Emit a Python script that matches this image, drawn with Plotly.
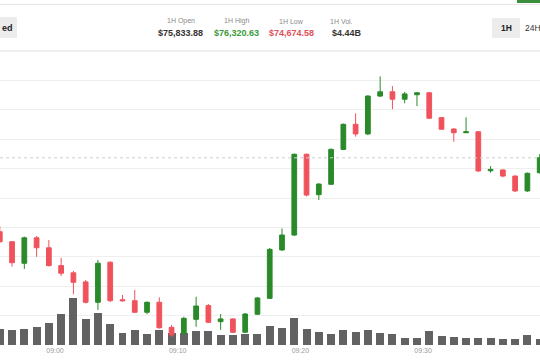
import plotly.graph_objects as go

day = "2024-11-07"
minutes = ["08:55", "08:56", "08:57", "08:58", "08:59", "09:00", "09:01", "09:02", "09:03", "09:04",
           "09:05", "09:06", "09:07", "09:08", "09:09", "09:10", "09:11", "09:12", "09:13", "09:14",
           "09:15", "09:16", "09:17", "09:18", "09:19", "09:20", "09:21", "09:22", "09:23", "09:24",
           "09:25", "09:26", "09:27", "09:28", "09:29", "09:30", "09:31", "09:32", "09:33", "09:34",
           "09:35", "09:36", "09:37", "09:38", "09:39"]

opens = [75528, 75477, 75367, 75497, 75446, 75355, 75318, 75272, 75168, 75372,
         75181, 75176, 75117, 75168, 75040, 75010, 75081, 75151, 75069, 75083,
         75015, 75107, 75188, 75435, 75511, 75923, 75717, 75770, 75948, 76076,
         76027, 76220, 76242, 76204, 76227, 76237, 76110, 76052, 76033, 76038,
         75839, 75843, 75812, 75736, 75829]
highs = [75557, 75478, 75503, 75506, 75486, 75395, 75328, 75282, 75384, 75377,
         75205, 75231, 75172, 75193, 75052, 75094, 75196, 75159, 75108, 75086,
         75113, 75195, 75445, 75545, 75927, 75927, 75776, 75953, 76080, 76132,
         76225, 76320.63, 76271, 76241, 76241, 76241, 76113, 76055, 76112, 76042,
         75863, 75846, 75815, 75830, 75924]
lows = [75470, 75350, 75338, 75400, 75351, 75302, 75209, 75162, 75129, 75169,
        75171, 75113, 75107, 75034, 74991, 75001, 75043, 75062, 75027, 75011,
        75011, 75103, 75185, 75430, 75506, 75708, 75690, 75766, 75945, 76013,
        76021, 76215, 76153, 76183, 76169, 76103, 76047, 75987, 76032, 75833,
        75829, 75806, 75731, 75731, 75825]
closes = [75477, 75370, 75497, 75446, 75355, 75316, 75270, 75168, 75367, 75176,
          75176, 75117, 75168, 75038, 75001, 75086, 75149, 75066, 75083, 75015,
          75108, 75190, 75438, 75511, 75923, 75715, 75771, 75948, 76076, 76027,
          76220, 76242, 76204, 76231, 76237, 76107, 76051, 76033, 76038, 75838,
          75846, 75812, 75736, 75826, 75905]
volumes_musd = [78, 77, 78, 92, 108, 157, 235, 132, 162, 105,
                62, 75, 53, 75, 62, 62, 68, 68, 48, 48,
                55, 55, 95, 87, 133, 78, 63, 53, 73, 63,
                73, 62, 53, 33, 33, 72, 47, 38, 33, 37,
                33, 28, 30, 48, 32]

stat_labels = ["1H Open", "1H High", "1H Low", "1H Vol."]
stat_values = ["$75,833.88", "$76,320.63", "$74,674.58", "$4.44B"]
range_buttons = ["1H", "24H"]

x = [f"{day} {m}:30" for m in minutes]

GREEN = "#2a8a2a"
RED = "#f0525c"
FONT = "Arial"

fig = go.Figure()
fig.add_trace(go.Bar(x=x, y=volumes_musd, marker_color="#626262", marker_line_width=0,
                     width=39000, yaxis="y", showlegend=False))
fig.add_trace(go.Candlestick(
    x=x, open=opens, high=highs, low=lows, close=closes, yaxis="y2",
    increasing=dict(line=dict(color=GREEN, width=1), fillcolor=GREEN),
    decreasing=dict(line=dict(color=RED, width=1), fillcolor=RED),
    whiskerwidth=0, showlegend=False))

T, B, H = 51, 15, 360
PH = H - T - B


def px(xp):
    return xp / 540


def py(yp):
    return (H - B - yp) / PH


shapes = [
    dict(type="line", xref="paper", yref="paper", x0=0, x1=1, y0=py(4.5), y1=py(4.5),
         line=dict(color="#e6e6e6", width=1)),
    dict(type="line", xref="paper", yref="paper", x0=0, x1=1, y0=py(51), y1=py(51),
         line=dict(color="#e8e8e8", width=1.5)),
    dict(type="rect", xref="paper", yref="paper", x0=px(517), x1=px(541), y0=py(3), y1=py(-2),
         fillcolor="#3a8f3a", line_width=0),
    dict(type="rect", xref="paper", yref="paper", x0=px(-5), x1=px(17), y0=py(38), y1=py(17),
         fillcolor="#ececec", line_width=0),
    dict(type="rect", xref="paper", yref="paper", x0=px(492), x1=px(520), y0=py(38), y1=py(18),
         fillcolor="#ececec", line_width=0),
    dict(type="line", xref="paper", yref="y2", x0=0, x1=1, y0=closes[-1], y1=closes[-1],
         line=dict(color="#cfcfcf", width=1, dash="dot")),
]

annotations = [
    dict(text="ed", x=px(0), y=py(28), xanchor="left", yanchor="middle",
         font=dict(family=FONT, size=9, color="#222", weight=700)),
]
label_x = [181, 236.5, 291.5, 341]
value_x = [180.5, 236, 291, 346.5]
value_colors = ["#333333", "#3a9a3a", "#e0505a", "#333333"]
for lab, val, lx, vx, vc in zip(stat_labels, stat_values, label_x, value_x, value_colors):
    annotations.append(dict(text=lab, x=px(lx), y=py(21), xanchor="center", yanchor="middle",
                            font=dict(family=FONT, size=7, color="#8a8a8a")))
    annotations.append(dict(text=val, x=px(vx), y=py(33), xanchor="center", yanchor="middle",
                            font=dict(family=FONT, size=9, color=vc, weight=600)))
annotations.append(dict(text=range_buttons[0], x=px(506), y=py(28), xanchor="center", yanchor="middle",
                        font=dict(family=FONT, size=8.5, color="#222", weight=700)))
annotations.append(dict(text=range_buttons[1], x=px(533), y=py(28), xanchor="center", yanchor="middle",
                        font=dict(family=FONT, size=8.5, color="#333")))
for a in annotations:
    a.update(xref="paper", yref="paper", showarrow=False)

fig.update_layout(
    width=540, height=360,
    margin=dict(l=0, r=0, t=T, b=B),
    paper_bgcolor="white", plot_bgcolor="white",
    boxgap=0.45, bargap=0,
    xaxis=dict(type="date", range=[f"{day} 08:55:31.05", f"{day} 09:39:31.6"],
               tickformat="%H:%M", dtick=600000, tick0=f"{day} 09:00",
               showgrid=False, zeroline=False, showline=False, ticks="",
               tickfont=dict(family=FONT, size=7, color="#9a9a9a"),
               rangeslider=dict(visible=False), fixedrange=True),
    yaxis=dict(range=[0, 1470], visible=False, showgrid=False, fixedrange=True),
    yaxis2=dict(overlaying="y", side="right", range=[74950, 76450], dtick=150, tick0=74950,
                showticklabels=False, gridcolor="#efefef", gridwidth=1, zeroline=False,
                showline=False, ticks="", fixedrange=True),
    shapes=shapes, annotations=annotations,
    hovermode=False,
)

fig.write_html(
    "out.html",
    config={"displayModeBar": False},
    post_script="document.body.style.margin='0';document.body.style.overflow='hidden';",
)
